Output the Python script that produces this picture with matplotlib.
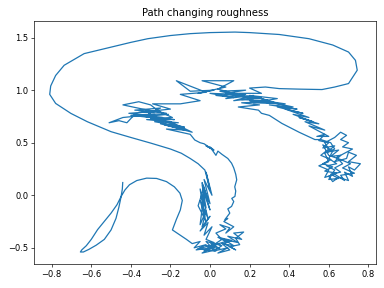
import numpy as np
import matplotlib
matplotlib.use('Agg')
import matplotlib.pyplot as plt

# --- Path pieces (data coordinates) ---
# smooth tail, narrow loop and arch
tail_x = [-0.441, -0.443, -0.449, -0.47, -0.50, -0.535, -0.568, -0.60, -0.625, -0.648,
          -0.655, -0.64, -0.612, -0.575, -0.534, -0.50, -0.475, -0.46, -0.449, -0.43, -0.407,
          -0.37, -0.32, -0.27, -0.22, -0.18, -0.152, -0.14, -0.15, -0.17, -0.19, -0.119]
tail_y = [0.121, 0.06, -0.011, -0.09, -0.17, -0.25, -0.327, -0.42, -0.48, -0.52,
          -0.54, -0.54, -0.515, -0.475, -0.42, -0.33, -0.22, -0.11, -0.011, 0.05, 0.10,
          0.14, 0.163, 0.16, 0.13, 0.08, 0.02, -0.05, -0.14, -0.23, -0.33, -0.42]

# rough cluster at the bottom
bottom_x = [-0.09, -0.05, -0.08, -0.02, -0.07, 0.01, -0.04, 0.03, -0.02, 0.05, 0.0, 0.06, 0.02,
            0.09, 0.04, 0.10, 0.06, 0.12, 0.07, 0.14, 0.09, 0.16, 0.12, 0.17, 0.13, 0.15, 0.10,
            0.13, 0.07, 0.11, 0.04, 0.08, -0.01, 0.03, -0.06, 0.02, 0.06, 0.03, 0.08, 0.05,
            0.10, 0.08, 0.12, 0.07, 0.09]
bottom_y = [-0.46, -0.44, -0.50, -0.47, -0.52, -0.50, -0.55, -0.52, -0.48, -0.51, -0.45, -0.48, -0.53,
            -0.50, -0.55, -0.52, -0.46, -0.48, -0.42, -0.45, -0.39, -0.42, -0.36, -0.35, -0.41,
            -0.47, -0.49, -0.52, -0.46, -0.43, -0.40, -0.44, -0.49, -0.53, -0.51, -0.47, -0.42,
            -0.36, -0.32, -0.28, -0.31, -0.36, -0.30, -0.25, -0.22]

# right column going up, bending left
column_x = [0.075, 0.10, 0.09, 0.109, 0.12, 0.11, 0.126, 0.13, 0.125, 0.135, 0.13, 0.12,
            0.109, 0.09, 0.06, 0.04, 0.03, 0.0, 0.02, -0.02, 0.01, -0.03, -0.05, -0.077]
column_y = [-0.232, -0.17, -0.13, -0.106, -0.06, -0.03, -0.011, 0.04, 0.08, 0.147, 0.2, 0.26,
            0.305, 0.35, 0.39, 0.42, 0.38, 0.46, 0.43, 0.47, 0.44, 0.49, 0.50, 0.526]

# rough cluster upper left
upleft_x = [-0.10, -0.22, -0.12, -0.25, -0.13, -0.28, -0.16, -0.32, -0.20, -0.35, -0.24, -0.40,
            -0.28, -0.44, -0.51, -0.46, -0.42, -0.38, -0.30, -0.41, -0.26, -0.36, -0.22, -0.34,
            -0.44, -0.36, -0.30, -0.26, -0.19, -0.30, -0.20, -0.09, -0.23, -0.13, -0.27, -0.18,
            -0.33, -0.21, -0.37, -0.27, -0.31, -0.25, -0.38, -0.30, -0.20, -0.29, -0.15]
upleft_y = [0.58, 0.63, 0.62, 0.68, 0.65, 0.70, 0.69, 0.72, 0.72, 0.75, 0.74, 0.76,
            0.77, 0.74, 0.69, 0.71, 0.69, 0.77, 0.76, 0.78, 0.80, 0.79, 0.78, 0.82,
            0.86, 0.89, 0.86, 0.80, 0.74, 0.73, 0.70, 0.60, 0.67, 0.64, 0.73, 0.72,
            0.75, 0.77, 0.76, 0.74, 0.78, 0.83, 0.81, 0.80, 0.82, 0.87, 0.87]

# rough band along the top
band_x = [-0.05, -0.15, -0.02, -0.17, -0.10, 0.02, -0.06, 0.08, -0.04, 0.12, 0.04, 0.14, 0.0,
          0.12, 0.03, 0.18, 0.08, 0.22, 0.12, 0.26, 0.16, 0.30, 0.20, 0.34, 0.22, 0.38, 0.27,
          0.42, 0.30, 0.44, 0.34, 0.47, 0.38, 0.50, 0.42, 0.52, 0.45, 0.55, 0.48, 0.58, 0.50,
          0.56, 0.60, 0.54]
band_y = [0.90, 0.96, 0.98, 1.09, 0.99, 1.00, 0.97, 1.03, 1.09, 1.09, 1.01, 0.96, 0.97,
          0.93, 0.95, 0.96, 0.92, 0.95, 0.90, 0.93, 0.91, 0.90, 0.95, 0.92, 0.88, 0.87, 0.90,
          0.84, 0.86, 0.82, 0.84, 0.78, 0.82, 0.74, 0.77, 0.70, 0.74, 0.68, 0.70, 0.62, 0.66,
          0.60, 0.56, 0.56]

# rough cluster lower right
right_x = [0.58, 0.55, 0.60, 0.57, 0.63, 0.59, 0.65, 0.61, 0.66, 0.63, 0.69, 0.70, 0.74, 0.70,
           0.76, 0.73, 0.70, 0.72, 0.68, 0.70, 0.65, 0.62, 0.60, 0.64, 0.58, 0.62, 0.57, 0.61,
           0.56, 0.60, 0.58, 0.63, 0.66, 0.69, 0.66, 0.70, 0.67, 0.72, 0.68, 0.64, 0.67, 0.63,
           0.66, 0.61, 0.65, 0.60, 0.63, 0.59, 0.64, 0.60, 0.62, 0.57, 0.60, 0.66, 0.71, 0.67,
           0.73, 0.66, 0.68, 0.63, 0.58, 0.60, 0.55, 0.60, 0.58, 0.63, 0.61, 0.56, 0.53]
right_y = [0.58, 0.52, 0.50, 0.45, 0.47, 0.41, 0.43, 0.37, 0.38, 0.32, 0.35, 0.41, 0.38, 0.32,
           0.30, 0.24, 0.27, 0.18, 0.22, 0.14, 0.17, 0.13, 0.18, 0.21, 0.23, 0.27, 0.30, 0.34,
           0.38, 0.44, 0.50, 0.55, 0.60, 0.57, 0.53, 0.50, 0.46, 0.44, 0.40, 0.36, 0.30, 0.26,
           0.22, 0.20, 0.16, 0.15, 0.24, 0.28, 0.30, 0.35, 0.42, 0.48, 0.38, 0.34, 0.30, 0.26,
           0.21, 0.19, 0.14, 0.20, 0.17, 0.24, 0.28, 0.32, 0.40, 0.44, 0.50, 0.53, 0.53]

# lower strand back up into the band
back_x = [0.45, 0.363, 0.30, 0.26, 0.245, 0.143, 0.25, 0.16, 0.30, 0.20, 0.35, 0.24, 0.10,
          0.22, 0.05, 0.18, 0.08, 0.26, 0.20, 0.28]
back_y = [0.60, 0.684, 0.76, 0.78, 0.81, 0.84, 0.86, 0.88, 0.89, 0.90, 0.87, 0.93, 0.96,
          0.92, 0.99, 1.00, 0.97, 0.97, 1.02, 1.03]

# smooth outer loop and S curve
outer_x = [0.35, 0.45, 0.566, 0.63, 0.70, 0.744, 0.735, 0.70, 0.62, 0.50, 0.35, 0.20, 0.126,
           0.0, -0.10, -0.20, -0.314, -0.40, -0.50, -0.636, -0.737, -0.78, -0.805, -0.81, -0.78,
           -0.703, -0.62, -0.50, -0.40, -0.297, -0.20, -0.145, -0.10, -0.06, -0.026]
outer_y = [1.015, 1.01, 1.006, 1.03, 1.063, 1.19, 1.284, 1.363, 1.43, 1.49, 1.53, 1.548, 1.553,
           1.548, 1.538, 1.52, 1.49, 1.455, 1.41, 1.348, 1.237, 1.14, 1.04, 0.96, 0.874,
           0.779, 0.70, 0.605, 0.55, 0.495, 0.44, 0.40, 0.35, 0.30, 0.24]

# rough left column down to the bottom
leftcol_x = [-0.02, 0.0, -0.02, 0.01, -0.03, 0.0, -0.04, -0.02, -0.05, -0.03, -0.04, -0.01,
             -0.05, -0.02, -0.06, -0.03, -0.01, -0.04, 0.0, -0.03, -0.05, -0.02, -0.04, 0.0,
             -0.05, -0.01, -0.03, 0.01, -0.02, 0.02, -0.01, 0.03, -0.03, 0.01, -0.02, 0.05]
leftcol_y = [0.20, 0.05, 0.22, 0.0, 0.15, -0.08, 0.10, -0.12, 0.06, -0.18, 0.0, -0.22,
             -0.05, -0.25, -0.10, 0.08, -0.06, 0.12, -0.14, 0.02, -0.28, -0.15, -0.30, -0.20,
             -0.34, -0.26, -0.38, -0.30, -0.42, -0.45, -0.50, -0.48, -0.53, -0.50, -0.44, -0.47]

x = np.concatenate([tail_x, bottom_x, column_x, upleft_x, band_x, right_x,
                    back_x, outer_x, leftcol_x])
y = np.concatenate([tail_y, bottom_y, column_y, upleft_y, band_y, right_y,
                    back_y, outer_y, leftcol_y])

fig, ax = plt.subplots(figsize=(6.4, 4.8), dpi=60)
ax.plot(x, y)
ax.set_title('Path changing roughness')
ax.set_xticks([-0.8, -0.6, -0.4, -0.2, 0.0, 0.2, 0.4, 0.6, 0.8])
ax.set_yticks([-0.5, 0.0, 0.5, 1.0, 1.5])
fig.subplots_adjust(left=0.089, right=0.979, top=0.927, bottom=0.083)
fig.savefig('out.png')
